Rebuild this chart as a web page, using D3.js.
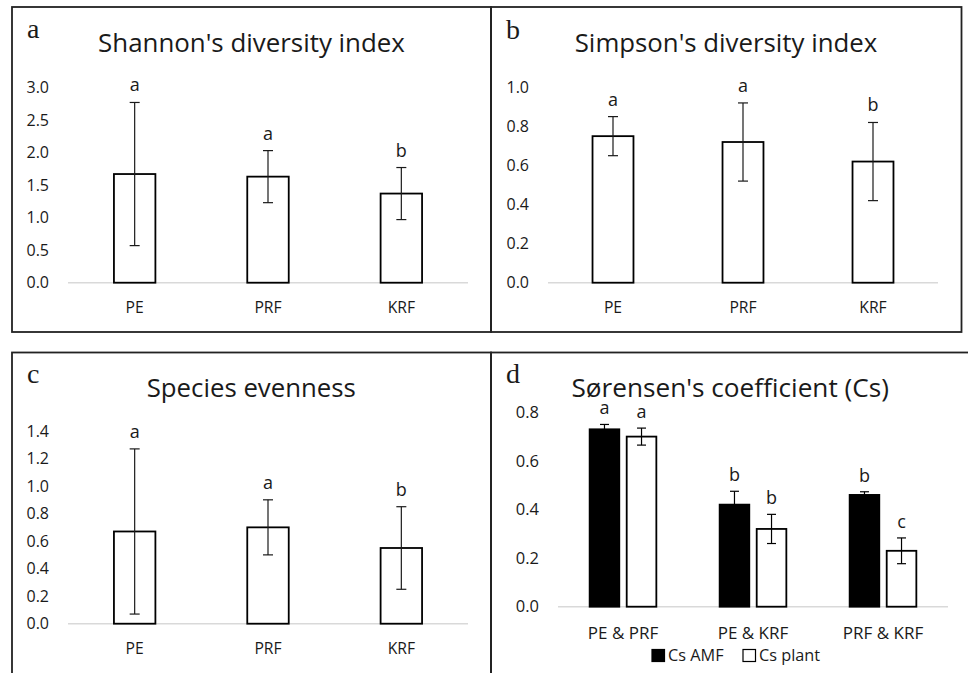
<!DOCTYPE html>
<html>
<head>
<meta charset="utf-8">
<script src="https://cdn.jsdelivr.net/npm/d3@7/dist/d3.min.js"></script>
<style>
  html, body { margin: 0; padding: 0; background: #fff; }
  svg { display: block; }
  text { font-family: "Open Sans", sans-serif; fill: #1a1a1a; }
</style>
</head>
<body>
<script>
// ---------------- data ----------------
const sites = ["PE", "PRF", "KRF"];

const shannon = [1.67, 1.63, 1.37];
const shannonErr = [1.10, 0.40, 0.40];
const shannonSig = ["a", "a", "b"];
const shannonTicks = [0, 0.5, 1.0, 1.5, 2.0, 2.5, 3.0];

const simpson = [0.75, 0.72, 0.62];
const simpsonErr = [0.10, 0.20, 0.20];
const simpsonSig = ["a", "a", "b"];
const simpsonTicks = [0, 0.2, 0.4, 0.6, 0.8, 1.0];

const evenness = [0.67, 0.70, 0.55];
const evennessErr = [0.60, 0.20, 0.30];
const evennessSig = ["a", "a", "b"];
const evennessTicks = [0, 0.2, 0.4, 0.6, 0.8, 1.0, 1.2, 1.4];

const pairs = ["PE & PRF", "PE & KRF", "PRF & KRF"];
const seriesNames = ["Cs AMF", "Cs plant"];
const csAMF = [0.73, 0.42, 0.46];
const csAMFErr = [0.02, 0.055, 0.013];
const csAMFSig = ["a", "b", "b"];
const csPlant = [0.70, 0.32, 0.23];
const csPlantErr = [0.035, 0.06, 0.053];
const csPlantSig = ["a", "b", "c"];
const csTicks = [0, 0.2, 0.4, 0.6, 0.8];

// ---------------- drawing ----------------
const W = 968, H = 673;
const svg = d3.select("body").append("svg").attr("width", W).attr("height", H);
const fmt = d3.format(".1f");
const INK = "#1a1a1a";

// panel frames
const frame = svg.append("g").attr("fill", "none").attr("stroke", "#222").attr("stroke-width", 1.8);
frame.append("rect").attr("x", 12).attr("y", 7).attr("width", 479).attr("height", 325);
frame.append("rect").attr("x", 491).attr("y", 7).attr("width", 470.5).attr("height", 325);
frame.append("rect").attr("x", 12).attr("y", 352.5).attr("width", 479).attr("height", 340);
frame.append("rect").attr("x", 491).attr("y", 352.5).attr("width", 500).attr("height", 340);

function fitTitle(txt, x, y, targetW) {
  const t = svg.append("text").attr("x", x).attr("y", y)
    .attr("text-anchor", "middle").style("font-size", "24px").text(txt);
  const w = t.node().getComputedTextLength();
  t.style("font-size", (24 * targetW / w).toFixed(2) + "px");
  return t;
}
function panelLetter(l, x, y) {
  svg.append("text").attr("x", x).attr("y", y)
    .style("font-family", "'Liberation Serif', 'DejaVu Serif', serif")
    .style("font-size", "28px").text(l);
}

function singlePanel(o) {
  const x = d3.scaleBand().domain(o.cats).range([o.x0, o.x1])
    .paddingInner(o.pad).paddingOuter(o.pad / 2);
  const y = d3.scaleLinear().domain([0, d3.max(o.ticks)]).range([o.yBase, o.yTop]);
  const g = svg.append("g");

  // baseline
  g.append("line").attr("x1", o.x0).attr("x2", o.x1)
    .attr("y1", y(0)).attr("y2", y(0))
    .attr("stroke", "#d9d9d9").attr("stroke-width", 1.5);

  // bars
  g.selectAll(".bar").data(o.vals).join("rect")
    .attr("x", (d, i) => x(o.cats[i]))
    .attr("y", d => y(d))
    .attr("width", x.bandwidth())
    .attr("height", d => y(0) - y(d))
    .attr("fill", "#fff").attr("stroke", "#000").attr("stroke-width", 1.8);

  // error bars
  const cap = 5;
  o.vals.forEach((v, i) => {
    const cx = x(o.cats[i]) + x.bandwidth() / 2;
    const e = o.errs[i];
    const eg = g.append("g").attr("stroke", INK).attr("stroke-width", 1.2);
    eg.append("line").attr("x1", cx).attr("x2", cx).attr("y1", y(v - e)).attr("y2", y(v + e));
    eg.append("line").attr("x1", cx - cap).attr("x2", cx + cap).attr("y1", y(v - e)).attr("y2", y(v - e));
    eg.append("line").attr("x1", cx - cap).attr("x2", cx + cap).attr("y1", y(v + e)).attr("y2", y(v + e));
    g.append("text").attr("x", cx).attr("y", y(v + e) - 11)
      .attr("text-anchor", "middle").style("font-size", "18px").text(o.sig[i]);
  });

  // y axis
  const ya = g.append("g").attr("transform", `translate(${o.x0},0)`)
    .call(d3.axisLeft(y).tickValues(o.ticks).tickFormat(fmt).tickSize(0).tickPadding(19));
  ya.select(".domain").remove();
  ya.selectAll("text").style("font-family", "'Open Sans', sans-serif").style("font-size", "16px").attr("fill", INK);

  // x axis
  const xa = g.append("g").attr("transform", `translate(0,${y(0)})`)
    .call(d3.axisBottom(x).tickSize(0).tickPadding(19));
  xa.select(".domain").remove();
  xa.selectAll("text").style("font-family", "'Open Sans', sans-serif").style("font-size", "15.7px").attr("fill", INK);
}

// ---- panel a ----
panelLetter("a", 27, 37.7);
fitTitle("Shannon's diversity index", 251.5, 52, 307);
singlePanel({ cats: sites, vals: shannon, errs: shannonErr, sig: shannonSig, ticks: shannonTicks,
  x0: 68, x1: 468, yBase: 282.7, yTop: 87.5, pad: 0.689 });

// ---- panel b ----
panelLetter("b", 506, 39.3);
fitTitle("Simpson's diversity index", 726, 52, 302.7);
singlePanel({ cats: sites, vals: simpson, errs: simpsonErr, sig: simpsonSig, ticks: simpsonTicks,
  x0: 548, x1: 938, yBase: 282.7, yTop: 87.3, pad: 0.685 });

// ---- panel c ----
panelLetter("c", 27, 383.3);
fitTitle("Species evenness", 251.3, 396.7, 209.3);
singlePanel({ cats: sites, vals: evenness, errs: evennessErr, sig: evennessSig, ticks: evennessTicks,
  x0: 68, x1: 468, yBase: 623.7, yTop: 431, pad: 0.689 });

// ---- panel d ----
panelLetter("d", 506, 383.3);
fitTitle("Sørensen's coefficient (Cs)", 730.2, 396.7, 317.7);
(function () {
  const x0 = 558, x1 = 948;
  const x = d3.scaleBand().domain(pairs).range([x0, x1]).paddingInner(0.487).paddingOuter(0.2435);
  const xs = d3.scaleBand().domain(seriesNames).range([0, x.bandwidth()]).paddingInner(0.2).paddingOuter(0);
  const y = d3.scaleLinear().domain([0, d3.max(csTicks)]).range([606.7, 412.3]);
  const g = svg.append("g");

  g.append("line").attr("x1", x0).attr("x2", x1).attr("y1", y(0)).attr("y2", y(0))
    .attr("stroke", "#d9d9d9").attr("stroke-width", 1.5);

  const series = [
    { name: seriesNames[0], vals: csAMF, errs: csAMFErr, sig: csAMFSig, fill: "#000" },
    { name: seriesNames[1], vals: csPlant, errs: csPlantErr, sig: csPlantSig, fill: "#fff" }
  ];
  const cap = 4.5;
  series.forEach(s => {
    s.vals.forEach((v, i) => {
      const bx = x(pairs[i]) + xs(s.name);
      g.append("rect").attr("x", bx).attr("y", y(v)).attr("width", xs.bandwidth())
        .attr("height", y(0) - y(v)).attr("fill", s.fill)
        .attr("stroke", "#000").attr("stroke-width", 1.8);
      const cx = bx + xs.bandwidth() / 2, e = s.errs[i];
      const eg = g.append("g").attr("stroke", "#000").attr("stroke-width", 1.2);
      eg.append("line").attr("x1", cx).attr("x2", cx).attr("y1", y(v - e)).attr("y2", y(v + e));
      eg.append("line").attr("x1", cx - cap).attr("x2", cx + cap).attr("y1", y(v - e)).attr("y2", y(v - e));
      eg.append("line").attr("x1", cx - cap).attr("x2", cx + cap).attr("y1", y(v + e)).attr("y2", y(v + e));
      g.append("text").attr("x", cx).attr("y", y(v + e) - 10)
        .attr("text-anchor", "middle").style("font-size", "18px").text(s.sig[i]);
    });
  });

  const ya = g.append("g").attr("transform", `translate(${x0},0)`)
    .call(d3.axisLeft(y).tickValues(csTicks).tickFormat(fmt).tickSize(0).tickPadding(19));
  ya.select(".domain").remove();
  ya.selectAll("text").style("font-family", "'Open Sans', sans-serif").style("font-size", "16.5px").attr("fill", INK);

  const xa = g.append("g").attr("transform", `translate(0,${y(0)})`)
    .call(d3.axisBottom(x).tickSize(0).tickPadding(20));
  xa.select(".domain").remove();
  xa.selectAll("text").style("font-family", "'Open Sans', sans-serif").style("font-size", "17px").attr("fill", INK);

  // legend
  const lg = g.append("g");
  const lx = [652, 743];
  series.forEach((s, i) => {
    lg.append("rect").attr("x", lx[i]).attr("y", 649.5).attr("width", 12.5).attr("height", 12)
      .attr("fill", s.fill).attr("stroke", "#000").attr("stroke-width", 1.2);
    lg.append("text").attr("x", lx[i] + 16).attr("y", 660.7).style("font-size", "16.3px").text(s.name);
  });
})();
</script>
</body>
</html>
